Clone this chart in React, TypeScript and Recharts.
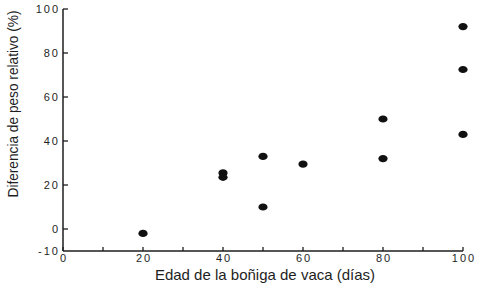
import { ScatterChart, Scatter, XAxis, YAxis, Label } from 'recharts';

const edadDias = [20, 40, 40, 50, 50, 60, 80, 80, 100, 100, 100];
const diferenciaPeso = [-2, 25.5, 23.5, 33, 10, 29.5, 50, 32, 92, 72.5, 43];
const xTicks = [0, 10, 20, 30, 40, 50, 60, 70, 80, 90, 100];
const xLabeled = [0, 20, 40, 60, 80, 100];
const yTicks = [-10, 0, 20, 40, 60, 80, 100];

const puntos = edadDias.map((x, i) => ({ x, y: diferenciaPeso[i] }));

const INK = '#1e1e1e';
const TICK_FONT = { fontFamily: 'Liberation Sans, Arial, sans-serif', fontSize: 11, letterSpacing: 2, fill: INK };

function XTick(props: any) {
  const { x, y, payload } = props;
  const v = payload.value;
  return (
    <g>
      <line x1={x} y1={y} x2={x} y2={y - 4} stroke={INK} strokeWidth={1.3} />
      {xLabeled.includes(v) && (
        <text x={x + 1} y={y + 11} textAnchor="middle" {...TICK_FONT}>{v}</text>
      )}
    </g>
  );
}

function YTick(props: any) {
  const { x, y, payload } = props;
  const v = payload.value;
  return (
    <g>
      {v !== -10 && <line x1={x} y1={y} x2={x + 5} y2={y} stroke={INK} strokeWidth={1.3} />}
      <text x={x - 3} y={y + 4} textAnchor="end" {...TICK_FONT}>{v}</text>
    </g>
  );
}

function Punto(props: any) {
  const { cx, cy } = props;
  return <ellipse cx={cx} cy={cy} rx={4.6} ry={3.6} fill="#111" />;
}

export default function App() {
  return (
    <div style={{ position: 'absolute', left: 0, top: 0, width: 481, height: 285, background: '#fff' }}>
      <ScatterChart width={481} height={285} margin={{ top: 9, right: 18, bottom: 14, left: 18 }}>
        <XAxis
          type="number"
          dataKey="x"
          domain={[0, 100]}
          ticks={xTicks}
          interval={0}
          height={20}
          tickSize={0}
          tickMargin={0}
          tickLine={false}
          tick={<XTick />}
          axisLine={{ stroke: INK, strokeWidth: 1.5 }}
        >
          <Label
            content={() => (
              <text x={265} y={280} textAnchor="middle" fontFamily="Liberation Sans, Arial, sans-serif" fontSize={15} fill={INK}>
                Edad de la boñiga de vaca (días)
              </text>
            )}
          />
        </XAxis>
        <YAxis
          type="number"
          dataKey="y"
          domain={[-10, 100]}
          ticks={yTicks}
          interval={0}
          width={45}
          tickSize={0}
          tickMargin={0}
          tickLine={false}
          tick={<YTick />}
          axisLine={{ stroke: INK, strokeWidth: 1.5 }}
        >
          <Label
            content={() => (
              <text
                x={0}
                y={0}
                transform="translate(18,104) rotate(-90)"
                textAnchor="middle"
                fontFamily="Liberation Sans, Arial, sans-serif"
                fontSize={14.5}
                textLength={187}
                lengthAdjust="spacingAndGlyphs"
                fill={INK}
              >
                Diferencia de peso relativo (%)
              </text>
            )}
          />
        </YAxis>
        <Scatter data={puntos} shape={<Punto />} isAnimationActive={false} />
      </ScatterChart>
    </div>
  );
}
